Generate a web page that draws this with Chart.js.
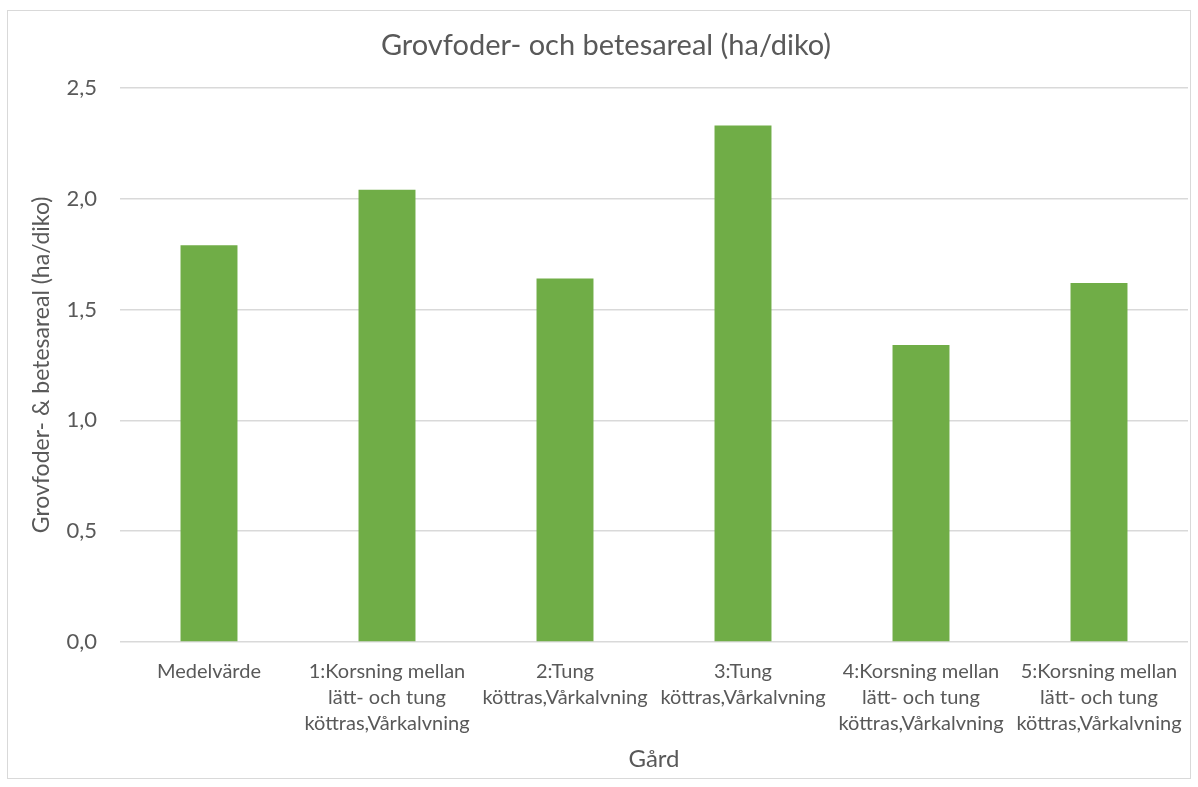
<!DOCTYPE html>
<html lang="sv">
<head>
<meta charset="utf-8">
<title>Grovfoder- och betesareal</title>
<script src="https://cdn.jsdelivr.net/npm/chart.js@4.4.0/dist/chart.umd.min.js"></script>
<style>
    html, body { margin: 0; padding: 0; background: #fff; }
    #ram {
        position: absolute; left: 7px; top: 10px;
        width: 1182px; height: 767px;
        border: 1px solid #d9d9d9;
    }
    #arealChart { position: absolute; left: 0; top: 0; }
</style>
</head>
<body>
<div id="ram"></div>
<canvas id="arealChart" width="1198" height="787"></canvas>
<script>
// ------------------- DATA -------------------

// Gårdar (kategorier), flerradiga etiketter
const gardar = [
    ['Medelvärde'],
    ['1:Korsning mellan', 'lätt- och tung', 'köttras,Vårkalvning'],
    ['2:Tung', 'köttras,Vårkalvning'],
    ['3:Tung', 'köttras,Vårkalvning'],
    ['4:Korsning mellan', 'lätt- och tung', 'köttras,Vårkalvning'],
    ['5:Korsning mellan', 'lätt- och tung', 'köttras,Vårkalvning']
];

// Grovfoder- & betesareal per diko (ha)
const areal = [1.79, 2.04, 1.64, 2.33, 1.34, 1.62];

// Y-axelns steg
const yTicks = [0, 0.5, 1.0, 1.5, 2.0, 2.5];

// ------------------- GRAF -------------------

const textFarg = '#595959';
const typsnitt = "Lato, 'Open Sans', sans-serif";

const ctx = document.getElementById('arealChart').getContext('2d');

new Chart(ctx, {
    type: 'bar',
    data: {
        labels: gardar,
        datasets: [{
            label: 'Grovfoder- & betesareal',
            data: areal,
            backgroundColor: '#70ad47',
            borderWidth: 0,
            categoryPercentage: 1,
            barPercentage: 0.32
        }]
    },
    options: {
        responsive: false,
        animation: false,
        layout: {
            padding: { left: 24, right: 10, top: 0, bottom: 10 }
        },
        plugins: {
            legend: { display: false },
            tooltip: { enabled: false },
            title: {
                display: true,
                text: 'Grovfoder- och betesareal (ha/diko)',
                color: textFarg,
                font: { family: typsnitt, size: 29, weight: 'normal', lineHeight: 1.2 },
                padding: { top: 28, bottom: 25 }
            }
        },
        scales: {
            x: {
                grid: { display: false },
                border: { display: false },
                ticks: {
                    color: textFarg,
                    font: { family: typsnitt, size: 20, lineHeight: 1.32 },
                    maxRotation: 0,
                    autoSkip: false,
                    padding: 8
                },
                title: {
                    display: true,
                    text: 'Gård',
                    color: textFarg,
                    font: { family: typsnitt, size: 24, lineHeight: 1.2 },
                    padding: { top: 0, bottom: 3 }
                },
                afterFit(scale) {
                    scale.height = 135;
                }
            },
            y: {
                min: 0,
                max: 2.5,
                afterBuildTicks(scale) {
                    scale.ticks = yTicks.map(v => ({ value: v }));
                },
                grid: {
                    color: '#d9d9d9',
                    lineWidth: 1.5,
                    drawTicks: false
                },
                border: { display: false },
                ticks: {
                    color: textFarg,
                    font: { family: typsnitt, size: 22 },
                    padding: 23,
                    callback: v => v.toFixed(1).replace('.', ',')
                },
                title: {
                    display: true,
                    text: 'Grovfoder- & betesareal (ha/diko)',
                    color: textFarg,
                    font: { family: typsnitt, size: 23, lineHeight: 1.2 },
                    padding: { top: 4, bottom: 0 }
                },
                afterFit(scale) {
                    scale.width = 96;
                }
            }
        }
    }
});
</script>
</body>
</html>
